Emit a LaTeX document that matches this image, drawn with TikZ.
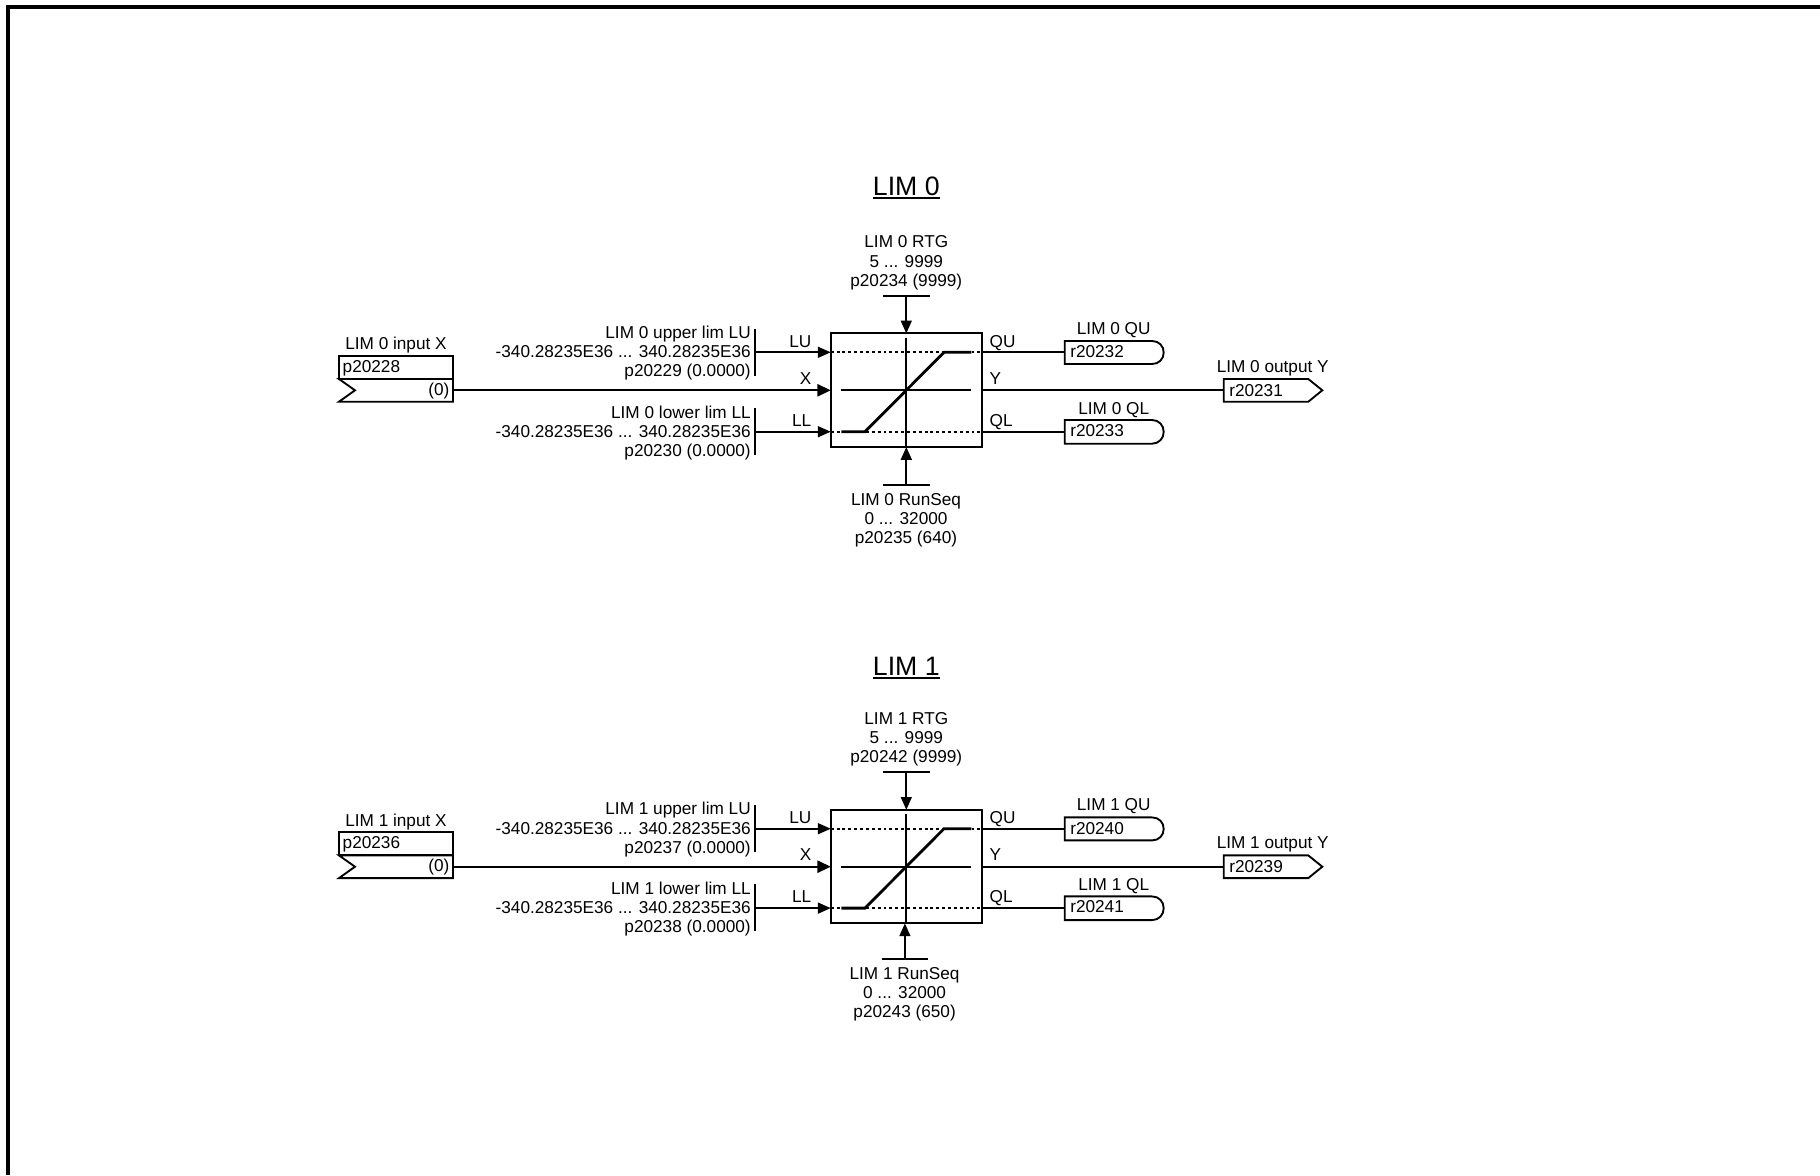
\documentclass[tikz,border=0pt]{standalone}
\usepackage{fontspec}
\setmainfont{Liberation Sans}
\usetikzlibrary{arrows.meta}
\tikzset{
  txt/.style={inner sep=0pt,outer sep=0pt,font=\fontsize{12.9}{14.5}\selectfont},
  ttl/.style={inner sep=0pt,outer sep=0pt,anchor=base,font=\fontsize{20}{22}\selectfont},
  ln/.style={line width=1.25pt},
  bar/.style={line width=1.25pt},
  boxl/.style={line width=1.4pt,fill=white},
  arr/.style={line width=1.25pt,-{Triangle[length=9.6pt,width=8.2pt]}},
  arrx/.style={line width=1.25pt,-{Triangle[length=10pt,width=9.2pt]}},
  dots/.style={line width=1.25pt,dash pattern=on 2.2pt off 2.2pt},
  ramp/.style={line width=2.1pt,line join=miter},
  frame/.style={line width=2.6pt,line cap=butt,line join=miter}
}
\newcommand{\lmblock}{%
  % title
  \node[ttl] (title\lmN) at (906.3,{195+\lmTy}) {LIM \lmN};
  \draw[line width=1.5pt] (title\lmN.base west) ++(0,2.9) coordinate (ua\lmN) (title\lmN.base east) ++(0,2.9) coordinate (ub\lmN) (ua\lmN) -- (ub\lmN);
  % central block
  \node[draw,line width=1.45pt,minimum width=113.7pt,minimum height=85.2pt,inner sep=0pt,outer sep=0pt] (blk\lmN) at (906.5,390.2) {};
  \coordinate (cu\lmN) at (906.3,352.3);
  \coordinate (cx\lmN) at (906.3,390.3);
  \coordinate (cl\lmN) at (906.3,431.7);
  % input block
  \draw[boxl] (339,356) rectangle (453,379);
  \draw[boxl] (339,379) -- (453,379) -- (453,401.7) -- (339,401.7) -- (355,390.3) -- cycle;
  \coordinate (inp\lmN) at (453,390.3);
  \node[txt,anchor=base] (inl\lmN) at (396,{349+\lmIy}) {LIM \lmN{} input X};
  \node[txt,anchor=base west] (inp\lmN t) at (342.7,372) {p\lmPin};
  \node[txt,anchor=base east] (ind\lmN) at (449.3,395.3) {(0)};
  % parameter bars
  \coordinate (lub\lmN) at (755.3,352.3);
  \coordinate (llb\lmN) at (755.3,431.7);
  \draw[bar] (755.3,329) -- (755.3,375.7);
  \draw[bar] (755.3,408) -- (755.3,455);
  \node[txt,anchor=base east] (lu1\lmN) at (750.7,338) {LIM \lmN{} upper lim LU};
  \node[txt,anchor=base east] (lu2\lmN) at (750.7,357.7) {-340.28235E36 ... 340.28235E36};
  \node[txt,anchor=base east] (lu3\lmN) at (750.7,376.7) {p\lmPu{} (0.0000)};
  \node[txt,anchor=base east] (ll1\lmN) at (750.7,418.3) {LIM \lmN{} lower lim LL};
  \node[txt,anchor=base east] (ll2\lmN) at (750.7,437) {-340.28235E36 ... 340.28235E36};
  \node[txt,anchor=base east] (ll3\lmN) at (750.7,456) {p\lmPl{} (0.0000)};
  % input connectors
  \draw[arr] (lub\lmN) -- (blk\lmN.west |- lub\lmN);
  \draw[arrx] (inp\lmN) -- (blk\lmN.west |- inp\lmN);
  \draw[arr] (llb\lmN) -- (blk\lmN.west |- llb\lmN);
  \node[txt,anchor=base] (tlu\lmN) at (800.3,347.3) {LU};
  \node[txt,anchor=base] (tx\lmN) at (805.7,384) {X};
  \node[txt,anchor=base] (tll\lmN) at (801.7,426.3) {LL};
  % limiter characteristic
  \draw[dots] (blk\lmN.west |- cu\lmN) -- (blk\lmN.east |- cu\lmN);
  \draw[dots] (blk\lmN.west |- cl\lmN) -- (blk\lmN.east |- cl\lmN);
  \draw[ln] (841.3,390.3) -- (971.3,390.3);
  \draw[ln] (906.3,337.7) -- (906.3,447);
  \draw[ramp] (841.3,431.7) -- (865,431.7) -- (944,352.3) -- (971.3,352.3);
  % top ramp time
  \coordinate (rt\lmN) at (906.3,295.7);
  \draw[bar] (883,295.7) -- (929.7,295.7);
  \draw[arr] (rt\lmN) -- (rt\lmN |- blk\lmN.north);
  \node[txt,anchor=base] (rt1\lmN) at (906.3,{247+\lmIy}) {LIM \lmN{} RTG};
  \node[txt,anchor=base] (rt2\lmN) at (906.3,267) {5 ... 9999};
  \node[txt,anchor=base] (rt3\lmN) at (906.3,{286.7-0.6*\lmIy}) {p\lmPr{} (9999)};
  % bottom run sequence
  \coordinate (rs\lmN) at ({906.3+\lmDx},{485+\lmDy});
  \draw[bar] ({883+\lmDx},{485+\lmDy}) -- ({929.7+\lmDx},{485+\lmDy});
  \draw[arr] (rs\lmN) -- (rs\lmN |- blk\lmN.south);
  \node[txt,anchor=base] (rs1\lmN) at ({906+\lmDx},{505+\lmDy}) {LIM \lmN{} RunSeq};
  \node[txt,anchor=base] (rs2\lmN) at ({906+\lmDx},{524+\lmDy}) {0 ... 32000};
  \node[txt,anchor=base] (rs3\lmN) at ({906+\lmDx},{543+\lmDy}) {p\lmPs};
  % outputs
  \coordinate (qu\lmN) at (1064.7,352.3);
  \coordinate (ql\lmN) at (1064.7,431.7);
  \coordinate (yy\lmN) at (1223.7,390.3);
  \draw[ln] (blk\lmN.east |- qu\lmN) -- (qu\lmN);
  \draw[ln] (blk\lmN.east |- yy\lmN) -- (yy\lmN);
  \draw[ln] (blk\lmN.east |- ql\lmN) -- (ql\lmN);
  \draw[boxl] (1064.7,341) -- (1152,341) .. controls (1159,341) and (1163.7,346) .. (1163.7,352.5) .. controls (1163.7,359) and (1159,364) .. (1152,364) -- (1064.7,364) -- cycle;
  \draw[boxl] (1064.7,420) -- (1152,420) .. controls (1159,420) and (1163.7,425.3) .. (1163.7,431.8) .. controls (1163.7,438.3) and (1159,443.7) .. (1152,443.7) -- (1064.7,443.7) -- cycle;
  \draw[boxl] (1223.7,379) -- (1308.3,379) -- (1322.3,390.3) -- (1308.3,401.7) -- (1223.7,401.7) -- cycle;
  \node[txt,anchor=base west] (rqu\lmN) at (1070.3,357.7) {r\lmRu};
  \node[txt,anchor=base west] (rql\lmN) at (1070.3,436) {r\lmRl};
  \node[txt,anchor=base west] (ryy\lmN) at (1229.3,{396.7-\lmIy}) {r\lmRy};
  \node[txt,anchor=base] (lqu\lmN) at (1113.7,334) {LIM \lmN{} QU};
  \node[txt,anchor=base] (lql\lmN) at (1113.7,414) {LIM \lmN{} QL};
  \node[txt,anchor=base] (lyy\lmN) at (1272.7,372) {LIM \lmN{} output Y};
  \node[txt,anchor=base west] (tqu\lmN) at (989.7,347) {QU};
  \node[txt,anchor=base west] (ty\lmN) at (989.7,384) {Y};
  \node[txt,anchor=base west] (tql\lmN) at (989.7,426) {QL};
}
\begin{document}
\begin{tikzpicture}[x=0.75pt,y=-0.75pt]
  \useasboundingbox (0,0) rectangle (1820,1175);
  \fill[white] (0,0) rectangle (1820,1175);
  \draw[frame] (7.8,1175) -- (7.8,7.2) -- (1820,7.2);
  \begin{scope}
    \def\lmN{0}\def\lmPin{20228}\def\lmPu{20229}\def\lmPl{20230}\def\lmPr{20234}
    \def\lmPs{20235 (640)}\def\lmRu{20232}\def\lmRl{20233}\def\lmRy{20231}
    \def\lmDx{0}\def\lmDy{0}\def\lmTy{0}\def\lmIy{0}
    \lmblock
  \end{scope}
  \begin{scope}[shift={(0,476.4)}]
    \def\lmN{1}\def\lmPin{20236}\def\lmPu{20237}\def\lmPl{20238}\def\lmPr{20242}
    \def\lmPs{20243 (650)}\def\lmRu{20240}\def\lmRl{20241}\def\lmRy{20239}
    \def\lmDx{-1.4}\def\lmDy{-2.1}\def\lmTy{3.6}\def\lmIy{1}
    \lmblock
  \end{scope}
\end{tikzpicture}
\end{document}
